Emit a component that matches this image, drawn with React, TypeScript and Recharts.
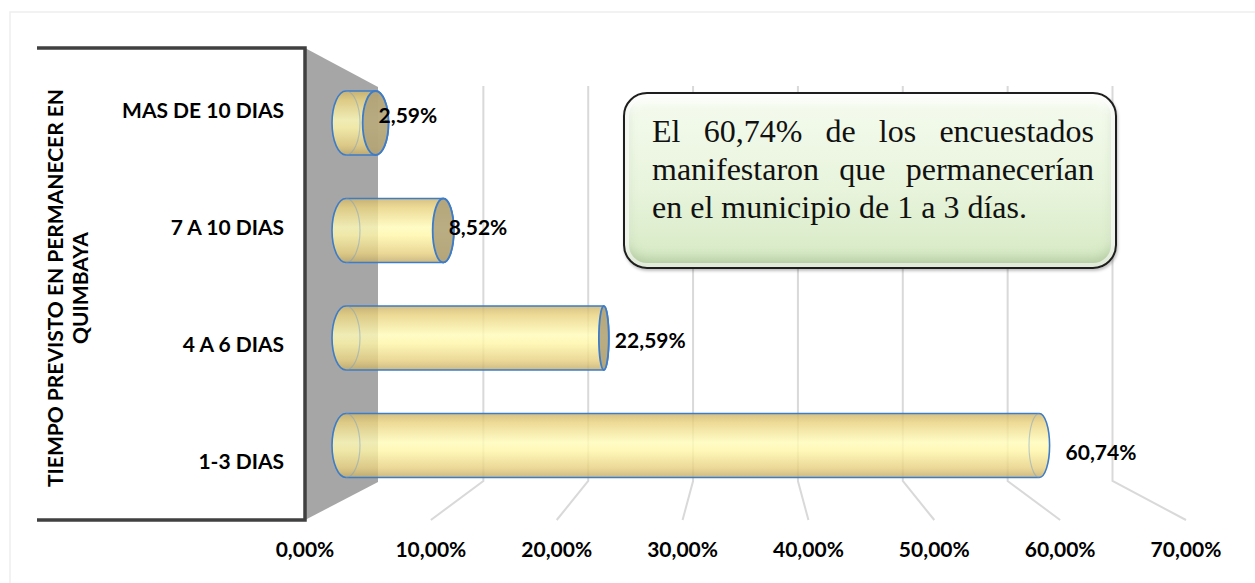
import React from 'react';
import { BarChart, Bar, XAxis, YAxis, LabelList, CartesianGrid } from 'recharts';

// datos
const categories = ['MAS DE 10 DIAS', '7 A 10 DIAS', '4 A 6 DIAS', '1-3 DIAS'];
const values = [0.0259, 0.0852, 0.2259, 0.6074];
const xTicks = [0, 0.1, 0.2, 0.3, 0.4, 0.5, 0.6, 0.7];
const yTitle = ['TIEMPO PREVISTO EN PERMANECER EN', 'QUIMBAYA'];
const noteLines = [
  'El 60,74% de los encuestados',
  'manifestaron que permanecerían',
  'en el municipio de 1 a 3 días.',
];

const data = categories.map((name, i) => ({ name, value: values[i] }));

const W = 1255;
const H = 583;
const PLOT_L = 305;
const PLOT_R = 1186;
const PLOT_W = PLOT_R - PLOT_L;
const CX = (PLOT_L + PLOT_R) / 2;
const CY = 284;
const MID_PAD = { left: 41, right: 41 };
// profundidad: frente = 1, pared del fondo = BACK, barras = MID
const BACK = (PLOT_W - 147) / PLOT_W;
const MID = (PLOT_W - MID_PAD.left - MID_PAD.right) / PLOT_W;
const GRID_TOP = 86;
const GRID_BOTTOM = 481;
const FLOOR_Y = 520;
const FONT = 'Lato, "Open Sans", sans-serif';
const FS = 21;

const fmt = (v: number) => (v * 100).toFixed(2).replace('.', ',') + '%';

const GridLine = (props: any) => {
  const { x1 } = props;
  const xf = CX + (x1 - CX) / MID;
  // sin linea en 0 (borde de la pared) ni en los bordes del area
  if (xf < PLOT_L + 5 || xf > PLOT_R + 5) return <g />;
  const xb = CX + (xf - CX) * BACK;
  return (
    <polyline
      points={`${xb},${GRID_TOP} ${xb},${GRID_BOTTOM} ${xf},${FLOOR_Y}`}
      fill="none"
      stroke="#d9d9d9"
      strokeWidth={2}
    />
  );
};

const FrontTick = (props: any) => {
  const { x, payload } = props;
  const xf = CX + (x - CX) / MID;
  return (
    <text x={xf} y={557} textAnchor="middle" fontFamily={FONT} fontWeight={700} fontSize={FS} fill="#000">
      {fmt(payload.value)}
    </text>
  );
};

const CatTick = (props: any) => {
  const { y, payload } = props;
  return (
    <text
      x={284}
      y={CY + 2 + (y - CY) * 1.09}
      dy="0.35em"
      textAnchor="end"
      fontFamily={FONT}
      fontWeight={700}
      fontSize={FS}
      fill="#000"
    >
      {payload.value}
    </text>
  );
};

const YTitle = () => (
  <text
    transform={`rotate(-90, 69, 288)`}
    x={69}
    y={288}
    textAnchor="middle"
    fontFamily={FONT}
    fontWeight={700}
    fontSize={FS}
    fill="#000"
  >
    <tspan x={69} y={288 - 6}>{yTitle[0]}</tspan>
    <tspan x={69} y={288 + 19}>{yTitle[1]}</tspan>
  </text>
);

const Cylinder = (props: any) => {
  const { x, y, width, height, index } = props;
  const x0 = x;
  const x1 = x + width;
  const ry = height / 2;
  const rx0 = Math.max(Math.abs(x0 - CX) * 0.035, 3);
  const rx1 = Math.max(Math.abs(x1 - CX) * 0.035, 3);
  const id = `cyl-${index}`;
  const body = `M${x0},${y} L${x1},${y} A${rx1},${ry} 0 0 1 ${x1},${y + height} L${x0},${y + height} A${rx0},${ry} 0 0 1 ${x0},${y} Z`;
  const faceVisible = x1 < CX;
  return (
    <g>
      <defs>
        <linearGradient id={id} x1="0" y1="0" x2="0" y2="1">
          <stop offset="0" stopColor="#cdb36a" />
          <stop offset="0.14" stopColor="#e9d27f" />
          <stop offset="0.45" stopColor="#fffbb8" />
          <stop offset="0.58" stopColor="#fff6a8" />
          <stop offset="0.86" stopColor="#e6cf80" />
          <stop offset="1" stopColor="#c2aa68" />
        </linearGradient>
      </defs>
      <path d={body} fill={`url(#${id})`} fillOpacity={0.82} stroke="#3d7cc9" strokeWidth={1.6} />
      <path
        d={`M${x0},${y} A${rx0},${ry} 0 0 1 ${x0},${y + height}`}
        fill="none"
        stroke="#6f9ccf"
        strokeOpacity={0.45}
        strokeWidth={1.2}
      />
      {faceVisible ? (
        <ellipse cx={x1} cy={y + ry} rx={rx1} ry={ry} fill="#ad9f78" fillOpacity={0.85} stroke="#3d7cc9" strokeWidth={1.8} />
      ) : (
        <path
          d={`M${x1},${y} A${rx1},${ry} 0 0 0 ${x1},${y + height}`}
          fill="none"
          stroke="#6f9ccf"
          strokeOpacity={0.45}
          strokeWidth={1.2}
        />
      )}
    </g>
  );
};

const ValueLabel = (props: any) => {
  const { x, y, width, height, value } = props;
  const lx = x + width * 1.035 + 2;
  const ly = CY + (y + height / 2 - CY) * 1.045;
  return (
    <text x={lx} y={ly} dy="0.35em" fontFamily={FONT} fontWeight={700} fontSize={FS} fill="#000">
      {fmt(value)}
    </text>
  );
};

export default function App() {
  return (
    <div style={{ position: 'absolute', left: 0, top: 0, width: W, height: H, background: '#fff', overflow: 'hidden' }}>
      <svg width={W} height={H} style={{ position: 'absolute', left: 0, top: 0 }}>
        <rect x={10} y={12} width={W + 20} height={H + 20} fill="none" stroke="#eeeeee" strokeWidth={1.5} />
        <polygon points={`305,48 378,87 378,${GRID_BOTTOM + 1} 305,${FLOOR_Y}`} fill="#a6a6a6" />
        <path d={`M37,48 H305 V${FLOOR_Y} H37`} fill="none" stroke="#404040" strokeWidth={3.5} />
      </svg>
      <div style={{ position: 'absolute', left: 0, top: 0 }}>
        <BarChart
          width={W}
          height={H}
          data={data}
          layout="vertical"
          margin={{ top: 69, right: W - PLOT_R, bottom: 0, left: 25 }}
          barCategoryGap={0}
        >
          <CartesianGrid xAxisId="mid" horizontal={false} vertical={GridLine} />
          <XAxis
            xAxisId="mid"
            type="number"
            height={84}
            domain={[0, 0.7]}
            ticks={xTicks}
            interval={0}
            padding={MID_PAD}
            axisLine={false}
            tickLine={false}
            tick={FrontTick}
          />
          <YAxis
            type="category"
            dataKey="name"
            width={280}
            axisLine={false}
            tickLine={false}
            tick={CatTick}
            interval={0}
            label={YTitle}
          />
          <Bar dataKey="value" xAxisId="mid" barSize={64} shape={Cylinder} isAnimationActive={false}>
            <LabelList dataKey="value" content={ValueLabel} />
          </Bar>
        </BarChart>
      </div>
      <div
        style={{
          position: 'absolute',
          left: 623,
          top: 92,
          width: 494,
          height: 177,
          boxSizing: 'border-box',
          border: '2.5px solid #1e1e1e',
          borderRadius: 24,
          background: 'linear-gradient(180deg, #f5fbef 0%, #e8f4dc 55%, #d5e9c3 100%)',
          boxShadow:
            'inset 0 0 0 4px rgba(255,255,255,0.6), inset 0 -8px 12px rgba(110,140,90,0.35), inset 0 8px 10px rgba(255,255,255,0.9), 1px 2px 3px rgba(0,0,0,0.25)',
        }}
      >
        <div
          style={{
            position: 'absolute',
            left: 27,
            top: 18,
            width: 442,
            fontFamily: '"Liberation Serif", "Times New Roman", serif',
            fontSize: 32,
            lineHeight: '38px',
            color: '#111',
          }}
        >
          {noteLines.map((line, i) => (
            <div
              key={i}
              style={{
                textAlign: 'justify',
                textAlignLast: i < noteLines.length - 1 ? 'justify' : 'left',
                whiteSpace: 'nowrap',
              }}
            >
              {line}
            </div>
          ))}
        </div>
      </div>
    </div>
  );
}
